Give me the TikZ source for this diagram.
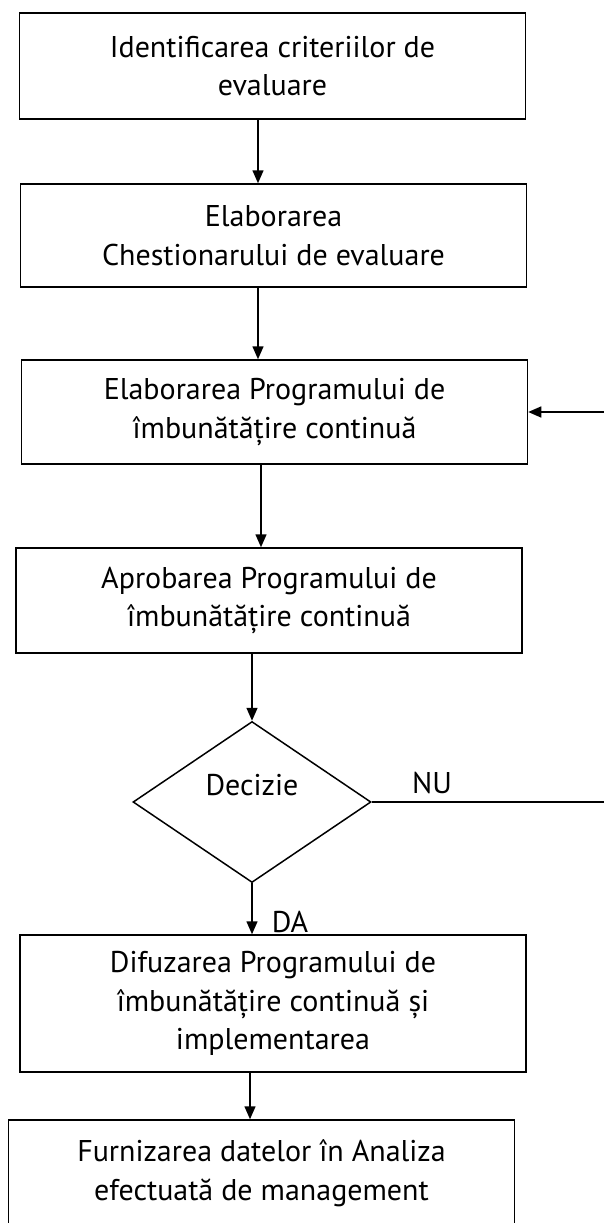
\documentclass[tikz,border=0pt]{standalone}
\usepackage{fontspec}
\setmainfont{PT Sans}
\usetikzlibrary{arrows.meta,shapes.geometric}
\begin{document}
\begin{tikzpicture}[x=1pt,y=-1pt,
  txt/.style={font=\fontsize{30}{38.5}\selectfont},
  stepbox/.style={draw, line width=1.5pt, txt, align=center, inner sep=0pt,
    minimum width=506pt},
  decision/.style={draw, line width=1.5pt, diamond, inner sep=0pt,
    minimum width=238pt, minimum height=161pt},
  arr/.style={line width=1.5pt, -{Triangle[length=13pt,width=11pt]}},
  flow/.style={line width=1.5pt}]
  \useasboundingbox (0,0) rectangle (603,1223);
  \fill[white] (0,0) rectangle (603,1223);

  % process steps
  \node[stepbox, minimum height=106pt] (b1) at (272.5,66)
    {Identificarea criteriilor de\\evaluare};
  \node[stepbox, minimum height=103pt] (b2) at (273.5,235.5)
    {Elaborarea\\Chestionarului de evaluare};
  \node[stepbox, minimum height=104pt] (b3) at (274.5,412)
    {Elaborarea Programului de\\îmbunătățire continuă};
  \node[stepbox, minimum height=105pt] (b4) at (269,600.5)
    {Aprobarea Programului de\\îmbunătățire continuă};
  \node[decision,
    label={[txt, yshift=17pt]center:Decizie}] (d) at (252,802) {};
  \node[stepbox, minimum height=137pt] (b5) at (273,1003.5)
    {Difuzarea Programului de\\îmbunătățire continuă și\\implementarea};
  \node[stepbox, minimum height=106pt] (b6) at (261.5,1173)
    {Furnizarea datelor în Analiza\\efectuată de management};

  % branch labels
  \node[txt] (nu) at (432,783) {NU};
  \node[txt] (da) at (290,922) {DA};

  % connector columns
  \coordinate (c1) at (258,0);
  \coordinate (c2) at (258,0);
  \coordinate (c3) at (261,0);
  \coordinate (c5) at (250,0);
  \coordinate (loopA) at (615,802);
  \coordinate (loopB) at (615,412);

  \draw[arr] (b1.south -| c1) -- (b2.north -| c1);
  \draw[arr] (b2.south -| c2) -- (b3.north -| c2);
  \draw[arr] (b3.south -| c3) -- (b4.north -| c3);
  \draw[arr] (b4.south -| d.north) -- (d.north);
  \draw[arr] (d.south) -- (b5.north -| d.south);
  \draw[arr] (b5.south -| c5) -- (b6.north -| c5);
  \draw[arr] (d.east) -- (loopA) -- (loopB) -- (b3.east);
\end{tikzpicture}
\end{document}
